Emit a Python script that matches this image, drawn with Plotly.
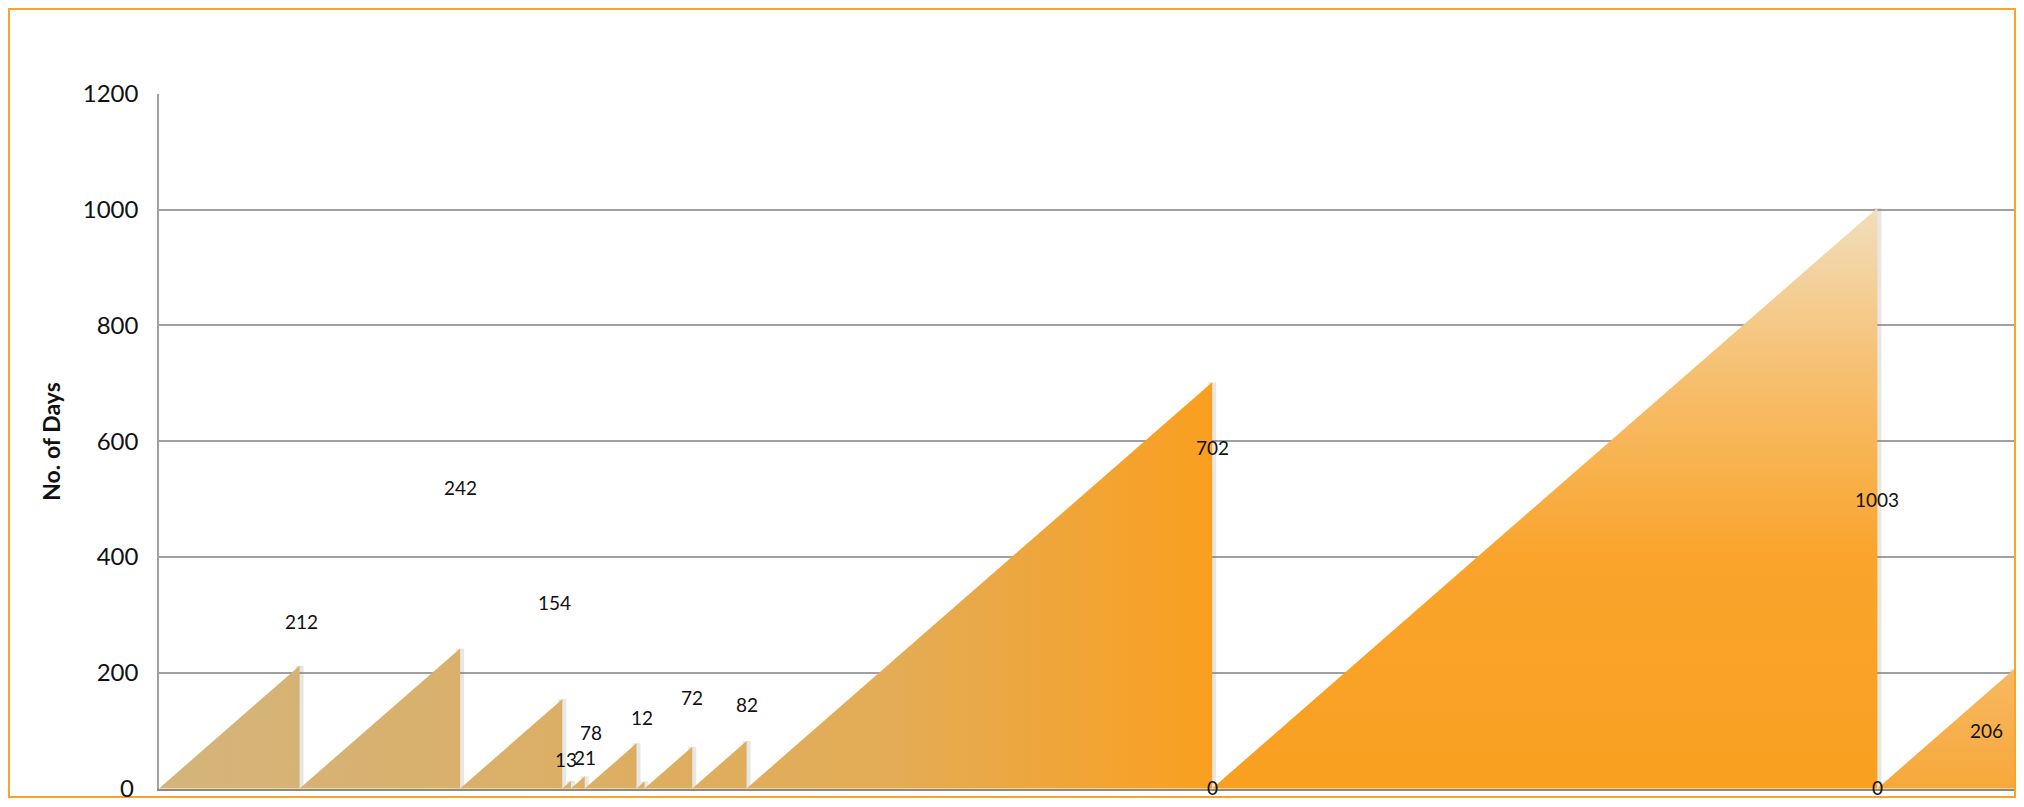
import plotly.graph_objects as go

# ---- data ----
periods = ["P1", "P2", "P3", "P4", "P5", "P6", "P7", "P8", "P9", "P10", "P11", "P12", "P13", "P14"]
days = [212, 242, 154, 13, 21, 78, 12, 72, 82, 702, 0, 1003, 0, 206]
label_y = [288, 520, 321, 50, 54, 96, 123, 157, 145, 589, 2, 499, 2, 100]
label_xshift = [2, 0, -8, -5, 0, -46, -2, 0, 0, 0, 0, 0, 0, -28]
y_ticks = [0, 200, 400, 600, 800, 1000, 1200]
y_title = "No. of Days"

# ---- page geometry (figure drawn at the default 8px body offset) ----
W, H = 2008, 791
L, R, T, B = 151, 2, 86, 10
pw, ph = W - L - R, H - T - B

fig = go.Figure()

ends = []
acc = 0
for v in days:
    acc += v
    ends.append(acc)
starts = [e - v for e, v in zip(ends, days)]
total = ends[-1]

# soft shadows on the right-hand vertical edges (drawn first, under fills)
for s, e, v in zip(starts, ends, days):
    if v <= 0:
        continue
    fig.add_trace(go.Scatter(x=[e, e], y=[0, v], mode="lines",
                             line=dict(color="rgba(120,120,100,0.18)", width=8),
                             hoverinfo="skip", showlegend=False))

left_scale = [[0, "#D4B47C"], [0.45, "#DDAE62"], [0.7, "#E4AC55"], [1.0, "#FA9F1F"]]
for i, (s, e, v) in enumerate(zip(starts, ends, days)):
    if v <= 0:
        continue
    if e <= ends[9]:
        grad = dict(type="horizontal", start=0, stop=ends[9], colorscale=left_scale)
    elif v == 1003:
        grad = dict(type="vertical", start=0, stop=v,
                    colorscale=[[0, "#F9A020"], [0.4, "#FAA42C"], [0.72, "#F6C071"], [1.0, "#F1DEBD"]])
    else:
        grad = dict(type="vertical", start=0, stop=v,
                    colorscale=[[0, "#F7A83A"], [1.0, "#F8B862"]])
    fig.add_trace(go.Scatter(x=[s, e, e, s], y=[0, v, 0, 0], mode="lines",
                             fill="toself", fillgradient=grad,
                             line=dict(width=0), name=periods[i],
                             hoverinfo="skip", showlegend=False))

# data labels
for e, v, ly, xs in zip(ends, days, label_y, label_xshift):
    fig.add_annotation(x=e, y=ly, text=str(v), showarrow=False, xshift=xs,
                       font=dict(family="Lato", size=19, color="#111"))

# bottom tick label drawn as text so it stays inside the page
tick_font = dict(family="Lato", size=24, color="#111")
fig.add_annotation(xref="paper", x=0, y=y_ticks[0], text=str(y_ticks[0]), showarrow=False,
                   xanchor="right", yanchor="middle", xshift=-23, yshift=1, font=tick_font)

# orange outer border around the chart area
def px_x(p):
    return (p - L) / pw

def px_y(p):
    return (H - B - p) / ph

fig.add_shape(type="rect", xref="paper", yref="paper",
              x0=px_x(1), x1=px_x(W - 1), y0=px_y(H - 2), y1=px_y(1),
              line=dict(color="#F9A32B", width=2), fillcolor="rgba(0,0,0,0)", layer="below")

fig.update_layout(
    width=W, height=H,
    margin=dict(l=L, r=R, t=T, b=B),
    paper_bgcolor="white", plot_bgcolor="white",
    showlegend=False,
    xaxis=dict(range=[0, total], showticklabels=False, ticks="", showgrid=False,
               zeroline=False, showline=True, linecolor="#8C8C6E", linewidth=2,
               fixedrange=True),
    yaxis=dict(range=[-1, 1200], tickvals=y_ticks[1:], ticktext=[str(t) for t in y_ticks[1:]],
               showgrid=True, gridcolor="#A0A0A0", gridwidth=1.6,
               zeroline=False, showline=True, linecolor="#A0A0A0", linewidth=1.5,
               ticks="", ticklen=0, ticklabelstandoff=14,
               tickfont=tick_font,
               title=dict(text="<b>" + y_title + "</b>", standoff=16,
                          font=dict(family="Lato", size=23, color="#111"))),
)

fig.write_html("out.html", config={"displayModeBar": False})
